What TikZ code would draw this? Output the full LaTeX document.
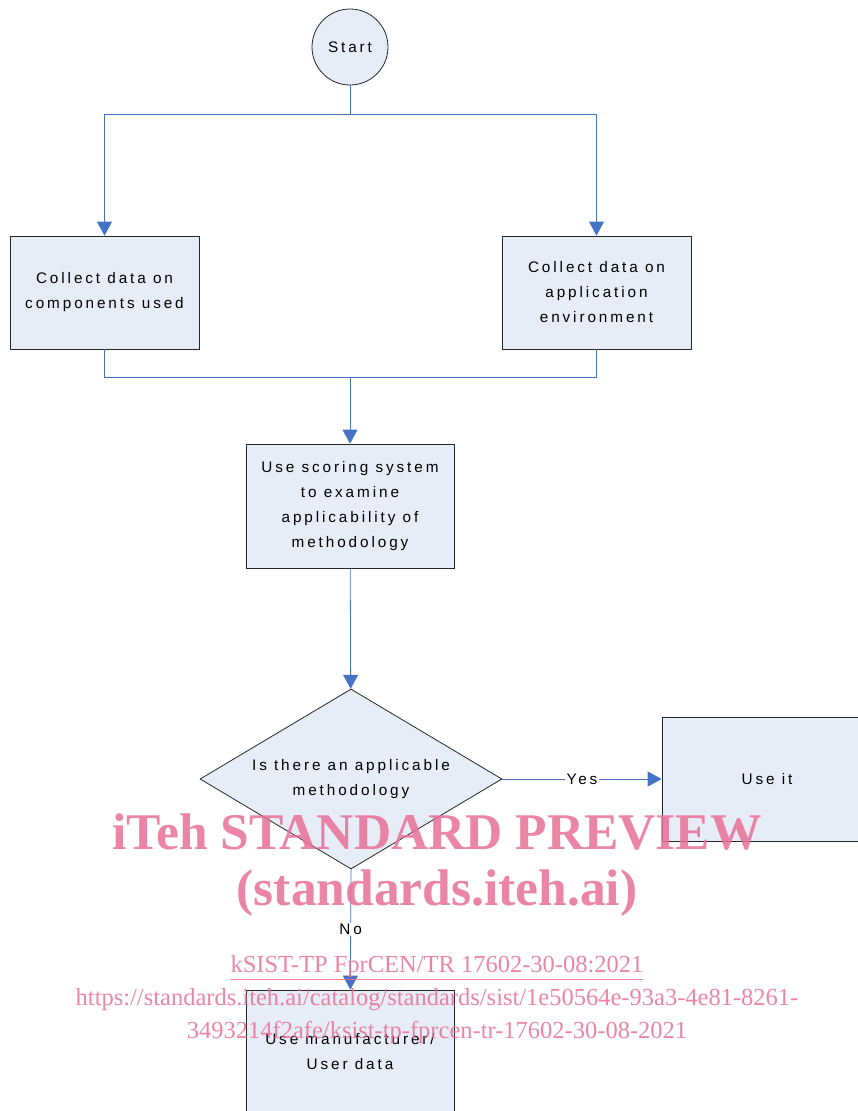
\documentclass[tikz,border=0pt]{standalone}
\usepackage{fontspec}
\usepackage{tikz}
\usetikzlibrary{shapes.geometric, arrows.meta, positioning}
\newfontfamily\flowfont[LetterSpace=19]{Liberation Sans}
\newfontfamily\markfont{Liberation Serif}
\definecolor{flowblue}{RGB}{68, 114, 196}
\definecolor{boxfill}{RGB}{231, 237, 247}
\definecolor{boxline}{RGB}{40, 40, 40}
\definecolor{markpink}{RGB}{232, 112, 150}
\newcommand{\flowtext}{\flowfont\fontsize{15.3}{25}\selectfont}

\begin{document}
\begin{tikzpicture}[x=1pt, y=-1pt,
    startnode/.style={circle, draw=boxline, line width=0.8pt, fill=boxfill, minimum size=76pt,
                      inner sep=0pt, font=\flowtext},
    procbox/.style={rectangle, draw=boxline, line width=0.8pt, fill=boxfill, minimum width=189pt,
                    minimum height=113pt, inner sep=0pt, font=\flowtext, align=center},
    decision/.style={diamond, draw=boxline, line width=0.8pt, fill=boxfill, minimum width=302pt,
                     minimum height=180pt, shape aspect=1.68, inner sep=0pt, font=\flowtext, align=center},
    flowline/.style={draw=flowblue, line width=0.8pt},
    flowarrow/.style={flowline, -{Triangle[length=14pt, width=15pt]}, color=flowblue},
    answer/.style={fill=white, text=black, inner sep=1.5pt, font=\flowtext},
    watermark/.style={text=markpink, opacity=0.85, align=center}
]
\useasboundingbox (0,0) rectangle (858,1111);

% Start
\node[startnode] (start) at (350,47) {Start};

% Data collection
\node[procbox] (collectcomp) at (104.5,292.5) {Collect data on\\components used};
\node[procbox] (collectenv) at (596.5,292.5) {Collect data on\\application\\environment};
\coordinate (split) at (350,114);
\coordinate (merge) at (350,377);

% Scoring and decision
\node[procbox, minimum width=208pt, minimum height=124pt] (scoring) at (350,506)
    {Use scoring system\\to examine\\applicability of\\methodology};
\node[decision] (decide) at (351,779) {Is there an applicable\\methodology};

% Outcomes
\node[procbox, minimum width=210pt, minimum height=124pt] (useit) at (767,779) {Use it};
\node[procbox, minimum width=208pt, minimum height=124pt] (usedata) at (350,1052)
    {Use manufacturer/\\User data};

% Connectors
\draw[flowline] (start) -- (split);
\draw[flowarrow] (split) -| (collectcomp);
\draw[flowarrow] (split) -| (collectenv);
\draw[flowline] (collectcomp) |- (merge);
\draw[flowline] (collectenv) |- (merge);
\draw[flowarrow] (merge) -- (scoring);
\draw[flowarrow] (scoring) -- (decide);
\draw[flowarrow] (decide) -- node[answer] {Yes} (useit);
\draw[flowarrow] (decide.south) -- node[answer] {No} (usedata);

% Watermark
\node[watermark, font=\markfont\bfseries\fontsize{51.5}{50}\selectfont] (wmtitle) at (437,832) {iTeh STANDARD PREVIEW};
\node[watermark, font=\markfont\bfseries\fontsize{51.5}{50}\selectfont] (wmsite) at (437,893) {(standards.iteh.ai)};
\node[watermark, font=\markfont\fontsize{24.5}{33}\selectfont] (wmref) at (437,968) {\underline{kSIST-TP FprCEN/TR 17602-30-08:2021}};
\node[watermark, font=\markfont\fontsize{24.5}{33}\selectfont, anchor=north] (wmurl) at (437,985)
    {https://standards.iteh.ai/catalog/standards/sist/1e50564e-93a3-4e81-8261-\\3493214f2afe/ksist-tp-fprcen-tr-17602-30-08-2021};

\end{tikzpicture}
\end{document}
